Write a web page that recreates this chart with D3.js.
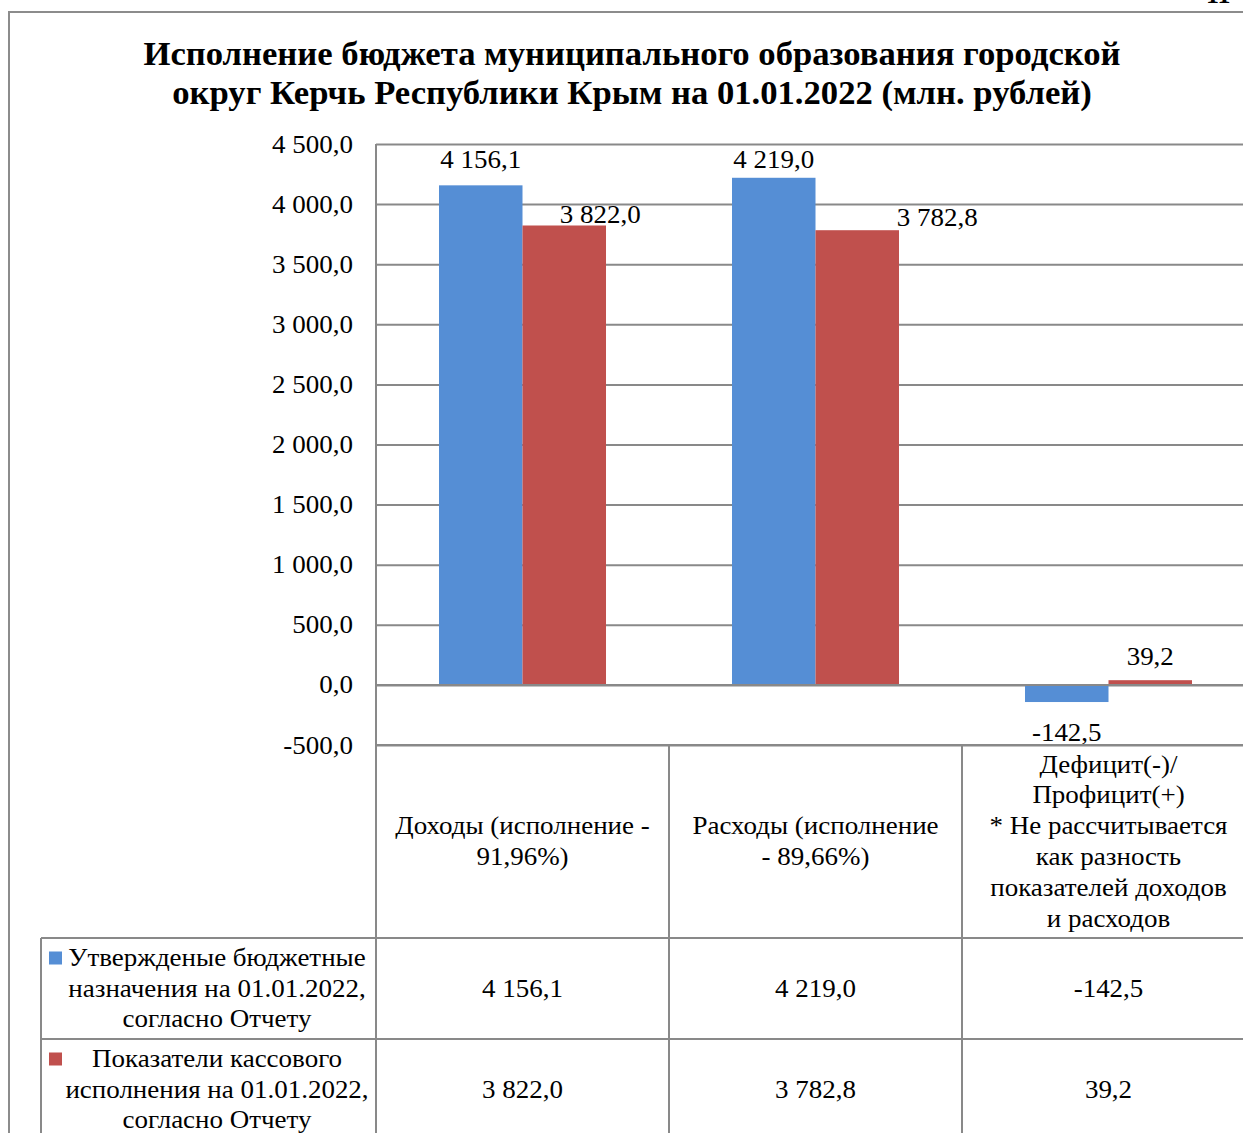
<!DOCTYPE html>
<html>
<head>
<meta charset="utf-8">
<script src="https://cdn.jsdelivr.net/npm/d3@7"></script>
<style>
  body { margin: 0; background: #fff; }
  text { font-family: "Liberation Serif", "Times New Roman", serif; fill: #000; }
</style>
</head>
<body>
<svg id="chart"></svg>
<script>
// Data
var categories = ["Доходы", "Расходы", "Дефицит"];
var categoryLines = [
  ["Доходы (исполнение -", "91,96%)"],
  ["Расходы (исполнение", "- 89,66%)"],
  ["Дефицит(-)/", "Профицит(+)", "* Не рассчитывается", "как разность", "показателей доходов", "и расходов"]
];
var seriesNames = ["Утвержденые", "Показатели"];
var seriesLines = [
  ["Утвержденые бюджетные", "назначения на 01.01.2022,", "согласно Отчету"],
  ["Показатели кассового", "исполнения на 01.01.2022,", "согласно Отчету"]
];
var plannedValues = [4156.1, 4219.0, -142.5];
var actualValues = [3822.0, 3782.8, 39.2];
var yTicks = [-500, 0, 500, 1000, 1500, 2000, 2500, 3000, 3500, 4000, 4500];
var titleLines = [
  "Исполнение бюджета муниципального образования городской",
  "округ Керчь Республики Крым на 01.01.2022 (млн. рублей)"
];

var colors = ["#558ED5", "#C0504D"];
var gridColor = "#898989";
var fontPx = 25, sx = 1.08;   // the original text is a bit wider than Times

var W = 1243, H = 1133;
var svg = d3.select("#chart").attr("width", W).attr("height", H);

var ru = d3.formatLocale({ decimal: ",", thousands: " ", grouping: [3], currency: ["", ""], minus: "-" });
var fmt = ru.format(",.1f");

// put text at x,y with a little horizontal stretch
function place(sel, xf, yf, k) {
  sel.attr("transform", function (d, i) {
    return "translate(" + xf(d, i) + "," + yf(d, i) + ") scale(" + (k || sx) + ",1)";
  });
}

// layout of plot
var plotLeft = 376, colW = 293;
var y = d3.scaleLinear().domain([-500, 4500]).range([745, 144]);
var x0 = d3.scaleBand().domain(categories).range([plotLeft, plotLeft + 3 * colW]);
var bw = x0.bandwidth();
var x1 = d3.scaleBand().domain(seriesNames).range([0.215 * bw, 0.785 * bw]);

// outer frame
svg.append("rect")
  .attr("x", 9).attr("y", 12)
  .attr("width", W + 20).attr("height", H + 20)
  .attr("fill", "none").attr("stroke", "#8c8c8c").attr("stroke-width", 2);

// page number cut off at top
svg.append("text").attr("x", 1206).attr("y", 3)
  .style("font-size", "26px").style("font-weight", "bold").text("11");

// title
var title = svg.append("g").selectAll("text")
  .data(titleLines).enter().append("text")
  .attr("text-anchor", "middle")
  .style("font-size", "33px").style("font-weight", "bold")
  .text(function (d) { return d; });
place(title, function () { return 632; }, function (d, i) { return 65 + i * 39; }, 1.05);

// gridlines + tick labels
var yAxis = svg.append("g")
  .attr("transform", "translate(" + plotLeft + ",0)")
  .call(d3.axisLeft(y).tickValues(yTicks).tickFormat(fmt).tickSize(-(W - plotLeft)));
yAxis.select(".domain").remove();
yAxis.selectAll(".tick line").attr("stroke", gridColor).attr("stroke-width", 2);
var tickText = yAxis.selectAll(".tick text")
  .attr("x", null).attr("dy", null)
  .attr("text-anchor", "end")
  .style("font-size", fontPx + "px").style("font-family", "Liberation Serif, serif")
  .attr("fill", "#000");
place(tickText, function () { return -23; }, function () { return 8; });

// bars
var series = [plannedValues, actualValues];
series.forEach(function (vals, s) {
  svg.append("g").selectAll("rect")
    .data(vals).enter().append("rect")
    .attr("x", function (d, i) { return x0(categories[i]) + x1(seriesNames[s]); })
    .attr("width", x1.bandwidth())
    .attr("y", function (d) { return y(Math.max(0, d)); })
    .attr("height", function (d) { return Math.abs(y(d) - y(0)); })
    .attr("fill", colors[s]);
});

// zero line redrawn over bars
svg.append("line")
  .attr("x1", plotLeft).attr("x2", W).attr("y1", y(0)).attr("y2", y(0))
  .attr("stroke", gridColor).attr("stroke-width", 2);

// data labels (nudged like the original, which was hand-placed)
var labelNudge = [
  [[0, -9], [0, -2], [0, 3]],
  [[36, 6], [80, 4], [0, -7]]
];
series.forEach(function (vals, s) {
  var lab = svg.append("g").selectAll("text")
    .data(vals).enter().append("text")
    .attr("text-anchor", "middle")
    .style("font-size", fontPx + "px")
    .text(function (d) { return fmt(d); });
  place(lab,
    function (d, i) { return x0(categories[i]) + x1(seriesNames[s]) + x1.bandwidth() / 2 + labelNudge[s][i][0]; },
    function (d, i) { return (d >= 0 ? y(d) - 8 : y(d) + 36) + labelNudge[s][i][1]; });
});

// data table
var tTop = y(-500), hdrBottom = 938, row1Bottom = 1039, row2Bottom = 1140;
var lineG = svg.append("g").attr("stroke", gridColor).attr("stroke-width", 2);
lineG.append("line").attr("x1", plotLeft).attr("x2", plotLeft).attr("y1", y(4500)).attr("y2", H);
lineG.append("line").attr("x1", plotLeft).attr("x2", W).attr("y1", tTop).attr("y2", tTop);
lineG.append("line").attr("x1", 41).attr("x2", W).attr("y1", hdrBottom).attr("y2", hdrBottom);
lineG.append("line").attr("x1", 41).attr("x2", W).attr("y1", row1Bottom).attr("y2", row1Bottom);
lineG.append("line").attr("x1", 41).attr("x2", 41).attr("y1", hdrBottom).attr("y2", H);
categories.forEach(function (c, i) {
  if (i > 0) {
    lineG.append("line").attr("x1", x0(c)).attr("x2", x0(c)).attr("y1", tTop).attr("y2", H);
  }
});

function multiLine(g, lines, cx, cy, lh) {
  var n = lines.length;
  var t = g.selectAll("text").data(lines).enter().append("text")
    .attr("text-anchor", "middle")
    .style("font-size", fontPx + "px")
    .text(function (d) { return d; });
  place(t, function () { return cx; }, function (d, i) { return cy + (i - (n - 1) / 2) * lh + 8; });
}

// category header cells
categories.forEach(function (c, i) {
  multiLine(svg.append("g"), categoryLines[i], x0(c) + bw / 2, (tTop + hdrBottom) / 2, 30.8);
});

// legend / row header cells
var rowCenters = [(hdrBottom + row1Bottom) / 2, (row1Bottom + row2Bottom) / 2];
seriesLines.forEach(function (lines, s) {
  svg.append("rect")
    .attr("x", 49).attr("y", rowCenters[s] - 37)
    .attr("width", 13).attr("height", 13)
    .attr("fill", colors[s]);
  multiLine(svg.append("g"), lines, 217, rowCenters[s], 30.5);
  // values
  var v = svg.append("g").selectAll("text")
    .data(series[s]).enter().append("text")
    .attr("text-anchor", "middle")
    .style("font-size", fontPx + "px")
    .text(function (d) { return fmt(d); });
  place(v, function (d, i) { return x0(categories[i]) + bw / 2; }, function () { return rowCenters[s] + 8; });
});
</script>
</body>
</html>
